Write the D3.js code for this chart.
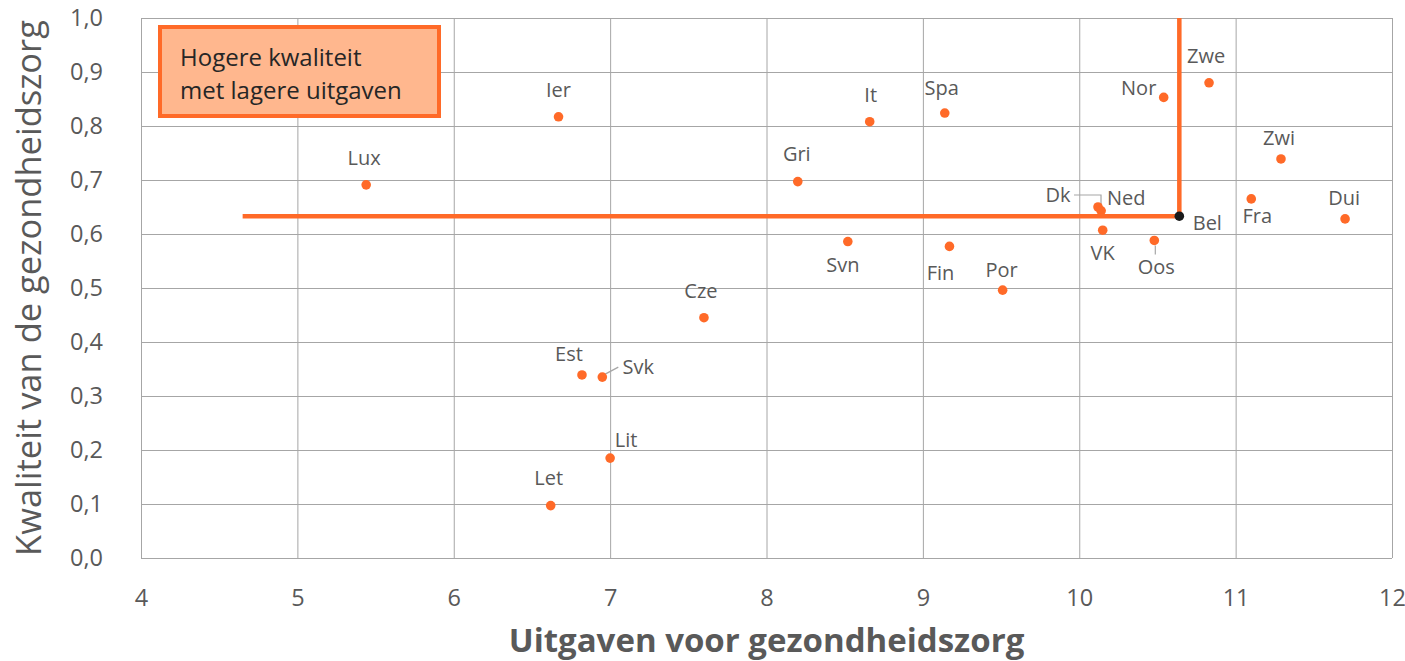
<!DOCTYPE html>
<html><head><meta charset="utf-8">
<script src="https://cdn.jsdelivr.net/npm/d3@7/dist/d3.min.js"></script>
<style>body{margin:0;background:#fff;} text{font-family:"Open Sans",sans-serif;}</style>
</head><body><svg id="c" width="1405" height="661"></svg>
<script>
const countries = ["Lux","Ier","It","Spa","Gri","Svn","Fin","Por","Cze","Est","Svk","Lit","Let","Zwe","Nor","Zwi","Fra","Dui","Dk","Ned","VK","Oos","Bel"];
const spending = [5.44,6.67,8.66,9.14,8.20,8.52,9.17,9.51,7.60,6.82,6.95,7.00,6.62,10.83,10.54,11.29,11.10,11.70,10.12,10.14,10.15,10.48,10.64];
const quality  = [0.691,0.817,0.808,0.824,0.697,0.586,0.577,0.496,0.445,0.339,0.335,0.185,0.097,0.880,0.853,0.739,0.665,0.628,0.650,0.643,0.607,0.588,0.633];
const xTicks = [4,5,6,7,8,9,10,11,12];
const yTicks = [0,0.1,0.2,0.3,0.4,0.5,0.6,0.7,0.8,0.9,1.0];
const refStartX = 4.65;
const boxLines = ["Hogere kwaliteit","met lagere uitgaven"];
const xTitle = "Uitgaven voor gezondheidszorg";
const yTitle = "Kwaliteit van de gezondheidszorg";

// label layout offsets (px) relative to point
const labelOffsets = {
  Lux:[-2,-27], Ier:[0,-27], It:[1,-27], Spa:[-3,-26], Gri:[-1,-28], Svn:[-5,23], Fin:[-9,26],
  Por:[-1,-21], Cze:[-3,-27], Est:[-13,-21], Svk:[36,-11], Lit:[16,-19], Let:[-2,-28],
  Zwe:[-3,-27], Nor:[-25,-10], Zwi:[-2,-21], Fra:[6,17], Dui:[-1,-21], Bel:[28,6],
  Ned:[25,-13], Dk:[-40,-13], VK:[0,22], Oos:[2,26]
};

const svg = d3.select("#c");
const m = {l:141, r:1405-1392, t:18, b:661-558};
const W = 1405, H = 661;
const x = d3.scaleLinear().domain([4,12]).range([m.l, W-m.r]);
const y = d3.scaleLinear().domain([0,1]).range([H-m.b, m.t]);
const grid = "#a6a6a6", txt = "#595959", orange = "#ff6a28";

// gridlines
svg.append("g").selectAll("line.v").data(xTicks).join("line")
  .attr("x1",d=>x(d)+0.5).attr("x2",d=>x(d)+0.5).attr("y1",y(0)).attr("y2",y(1))
  .attr("stroke",grid).attr("stroke-width",1);
svg.append("g").selectAll("line.h").data(yTicks).join("line")
  .attr("x1",x(4)).attr("x2",x(12)).attr("y1",d=>y(d)+0.5).attr("y2",d=>y(d)+0.5)
  .attr("stroke",grid).attr("stroke-width",1);

// axes
const xAxis = d3.axisBottom(x).tickValues(xTicks).tickSize(0).tickPadding(31).tickFormat(d3.format("d"));
const gx = svg.append("g").attr("transform",`translate(0,${y(0)})`).call(xAxis);
gx.select(".domain").remove();
gx.selectAll("text").attr("fill",txt).attr("font-size",23.5).attr("font-family","Open Sans");
const yAxis = d3.axisLeft(y).tickValues(yTicks).tickSize(0).tickPadding(38).tickFormat(d=>d.toFixed(1).replace(".",","));
const gy = svg.append("g").attr("transform",`translate(${x(4)},0)`).call(yAxis);
gy.select(".domain").remove();
gy.selectAll("text").attr("fill",txt).attr("font-size",23.5).attr("font-family","Open Sans");

// titles
svg.append("text").attr("x",(x(4)+x(12))/2).attr("y",652).attr("text-anchor","middle")
  .attr("font-size",33).attr("font-weight","bold").attr("fill",txt).text(xTitle);
svg.append("text").attr("transform",`translate(41,${(y(0)+y(1))/2}) rotate(-90)`).attr("text-anchor","middle")
  .attr("font-size",34.5).attr("fill",txt).text(yTitle);

// reference lines through Belgium
const bi = countries.indexOf("Bel");
const bx = spending[bi], by = quality[bi];
svg.append("line").attr("x1",x(refStartX)).attr("x2",x(bx)).attr("y1",y(by)).attr("y2",y(by))
  .attr("stroke",orange).attr("stroke-width",4.5);
svg.append("line").attr("x1",x(bx)).attr("x2",x(bx)).attr("y1",y(by)).attr("y2",y(1))
  .attr("stroke",orange).attr("stroke-width",4.5);

// leader lines
const pt = n => { const i = countries.indexOf(n); return [x(spending[i]), y(quality[i])]; };
const lc = "#a6a6a6";
{ const [px,py] = pt("Svk"); svg.append("line").attr("x1",px+1).attr("y1",py-2).attr("x2",px+16).attr("y2",py-10).attr("stroke",lc).attr("stroke-width",1.2); }
{ const [px,py] = pt("Dk"); svg.append("polyline").attr("points",`${px-24},${py-12} ${px+3},${py-12} ${px+3},${py+3}`).attr("fill","none").attr("stroke",lc).attr("stroke-width",1.2); }
{ const [px,py] = pt("Oos"); svg.append("line").attr("x1",px+1).attr("y1",py+5).attr("x2",px+1).attr("y2",py+14).attr("stroke",lc).attr("stroke-width",1.2); }

// points
svg.append("g").selectAll("circle").data(countries).join("circle")
  .attr("cx",(d,i)=>x(spending[i])).attr("cy",(d,i)=>y(quality[i])).attr("r",4.8)
  .attr("fill",d=>d==="Bel"?"#1a1a1a":orange);

// labels
svg.append("g").selectAll("text").data(countries).join("text")
  .attr("x",(d,i)=>x(spending[i])+labelOffsets[d][0]).attr("y",(d,i)=>y(quality[i])+labelOffsets[d][1])
  .attr("text-anchor","middle").attr("dominant-baseline","central")
  .attr("font-size",20).attr("fill",txt).text(d=>d);

// annotation box
svg.append("rect").attr("x",160).attr("y",27).attr("width",279).attr("height",89)
  .attr("fill","#ffb78e").attr("stroke",orange).attr("stroke-width",4);
svg.append("g").selectAll("text").data(boxLines).join("text")
  .attr("x",180).attr("y",(d,i)=>66+i*33).attr("font-size",24).attr("fill","#262626").text(d=>d);
</script></body></html>
